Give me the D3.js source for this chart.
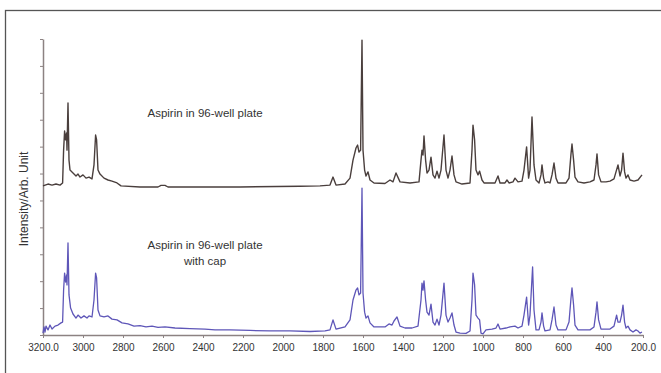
<!DOCTYPE html>
<html>
<head>
<meta charset="utf-8">
<script src="https://cdn.jsdelivr.net/npm/d3@7"></script>
<style>
  body { margin: 0; background: #fff; }
  #chart svg { display: block; }
</style>
</head>
<body>
<div id="chart"></div>
<script>
// wavenumber ticks (cm-1), x axis runs high -> low
const xTicks = [3200, 3000, 2800, 2600, 2400, 2200, 2000, 1800, 1600, 1400, 1200, 1000, 800, 600, 400, 200];
const yTicks = [0, 10, 20, 30, 40, 50, 60, 70, 80, 90, 100, 110];

const labels = ['Aspirin in 96-well plate', 'Aspirin in 96-well plate', 'with cap'];

// top trace: aspirin in plate (offset up, arbitrary units) [wavenumber, intensity]
const plateSpectrum = [
  [3200, 55.4], [3175, 56.1], [3155, 55.7], [3135, 56.1], [3115, 55.7], [3102, 56.5],
  [3097, 68.7], [3092, 75.8], [3087, 72.5], [3082, 75.1], [3080, 68.7], [3075, 86.2],
  [3070, 65.0], [3065, 61.3], [3050, 60.2], [3035, 59.1], [3025, 59.8], [3015, 58.7],
  [3000, 59.5], [2985, 58.3], [2970, 58.7], [2955, 58.0], [2945, 63.2], [2937, 74.3],
  [2932, 72.5], [2925, 61.3], [2915, 59.8], [2895, 58.3], [2875, 57.6], [2855, 57.2],
  [2830, 56.5], [2810, 55.4], [2715, 55.0], [2625, 55.0], [2610, 55.6], [2590, 55.6],
  [2575, 55.0], [2215, 55.0], [1915, 55.3], [1815, 55.4], [1765, 55.7], [1750, 58.7],
  [1735, 55.7], [1690, 56.1], [1665, 58.3], [1650, 65.0], [1635, 69.5], [1627, 70.6],
  [1620, 68.0], [1612, 68.7], [1605, 109.6], [1600, 68.7], [1592, 61.3], [1585, 59.1],
  [1575, 60.6], [1565, 57.6], [1545, 56.5], [1490, 56.3], [1465, 57.6], [1450, 56.9],
  [1435, 60.2], [1415, 56.9], [1365, 56.5], [1320, 56.9], [1310, 65.0], [1305, 68.7],
  [1300, 66.9], [1295, 74.0], [1287, 65.0], [1280, 60.2], [1270, 61.3], [1260, 66.1],
  [1250, 59.5], [1240, 58.3], [1230, 60.9], [1220, 58.3], [1210, 61.3], [1195, 74.3],
  [1185, 61.3], [1175, 58.3], [1165, 61.3], [1155, 66.5], [1145, 59.5], [1135, 56.9],
  [1105, 56.1], [1065, 56.5], [1055, 68.7], [1050, 78.0], [1042, 72.5], [1035, 61.3],
  [1025, 59.5], [1017, 60.9], [1005, 57.6], [995, 56.5], [940, 56.5], [925, 59.1],
  [915, 56.5], [890, 56.5], [880, 57.6], [870, 56.5], [850, 56.9], [840, 58.3],
  [825, 56.9], [805, 57.2], [795, 61.3], [782, 69.9], [772, 58.3], [765, 61.3],
  [755, 81.0], [745, 63.2], [735, 57.6], [720, 56.5], [710, 59.5], [705, 63.2],
  [697, 58.3], [690, 56.5], [675, 56.9], [665, 56.5], [655, 59.5], [645, 63.9],
  [635, 58.3], [625, 56.5], [585, 56.5], [570, 58.3], [560, 67.3], [555, 71.0],
  [547, 65.0], [540, 58.7], [525, 56.9], [495, 56.5], [465, 56.9], [445, 57.6],
  [435, 63.2], [430, 67.3], [422, 59.5], [410, 56.9], [385, 56.9], [365, 57.2],
  [345, 58.0], [335, 60.6], [325, 63.2], [315, 59.1], [307, 61.3], [300, 67.6],
  [292, 60.6], [285, 58.3], [275, 59.5], [265, 57.6], [245, 57.2], [225, 57.6],
  [205, 59.5]
];

// bottom trace: aspirin in plate with cap
const capSpectrum = [
  [3200, 0.7], [3195, 3.0], [3190, 1.1], [3185, 3.3], [3175, 1.9], [3165, 3.7],
  [3155, 2.2], [3140, 3.3], [3125, 3.7], [3110, 4.5], [3102, 4.8], [3097, 16.7],
  [3092, 23.0], [3087, 19.7], [3082, 22.3], [3080, 18.6], [3075, 34.2], [3070, 14.9],
  [3062, 10.0], [3050, 7.8], [3035, 6.3], [3025, 7.4], [3010, 6.3], [2995, 7.1],
  [2980, 6.3], [2970, 7.1], [2955, 6.7], [2945, 13.0], [2937, 23.0], [2932, 21.2],
  [2925, 9.3], [2915, 7.1], [2895, 6.7], [2875, 7.1], [2855, 5.9], [2830, 5.6],
  [2805, 4.5], [2775, 4.1], [2745, 3.3], [2715, 3.5], [2685, 3.0], [2655, 3.3],
  [2625, 2.8], [2590, 3.0], [2540, 2.6], [2465, 2.4], [2390, 2.2], [2340, 1.9],
  [2265, 1.9], [2165, 1.7], [2065, 1.5], [1965, 1.5], [1865, 1.3], [1790, 1.5],
  [1765, 1.9], [1750, 5.6], [1735, 2.2], [1690, 3.0], [1665, 5.6], [1650, 13.0],
  [1635, 16.7], [1627, 17.5], [1620, 14.9], [1612, 15.6], [1605, 54.6], [1600, 15.6],
  [1592, 8.5], [1585, 6.3], [1575, 7.1], [1565, 4.5], [1545, 3.0], [1490, 3.0],
  [1470, 4.1], [1455, 3.7], [1445, 5.2], [1430, 6.7], [1415, 3.3], [1390, 2.6],
  [1355, 2.6], [1325, 3.3], [1310, 13.0], [1305, 19.3], [1300, 16.7], [1295, 20.1],
  [1287, 13.0], [1280, 8.5], [1270, 7.4], [1260, 11.5], [1250, 4.8], [1240, 3.7],
  [1230, 5.9], [1220, 3.7], [1210, 7.4], [1195, 19.3], [1185, 7.4], [1175, 4.8],
  [1165, 6.3], [1155, 8.2], [1145, 3.7], [1135, 1.1], [1115, 0.7], [1085, 0.6],
  [1065, 1.5], [1055, 13.0], [1050, 23.0], [1042, 18.6], [1035, 7.4], [1025, 6.3],
  [1017, 5.6], [1010, 0.7], [1000, 0.4], [985, 1.9], [955, 2.2], [935, 2.6],
  [925, 4.1], [915, 2.2], [885, 2.6], [865, 3.0], [840, 3.3], [825, 2.6],
  [805, 3.3], [795, 7.4], [782, 14.1], [772, 3.7], [765, 7.4], [752, 25.3],
  [745, 9.3], [735, 1.9], [720, 1.9], [710, 4.8], [705, 8.2], [697, 3.3],
  [690, 1.5], [665, 1.9], [655, 5.6], [645, 10.4], [635, 3.7], [625, 1.9],
  [585, 1.9], [570, 4.8], [560, 13.7], [555, 17.5], [547, 11.1], [540, 3.7],
  [525, 1.9], [465, 1.9], [445, 3.0], [435, 8.5], [430, 12.3], [422, 5.6],
  [410, 2.2], [365, 2.2], [345, 3.3], [332, 7.4], [325, 4.8], [315, 4.8],
  [307, 7.4], [300, 11.1], [292, 4.8], [285, 2.6], [275, 3.3], [265, 1.9],
  [250, 1.1], [235, 1.9], [225, 1.5], [215, 0.7], [205, 1.1]
];

const WIDTH = 661;
const HEIGHT = 373;
const X0 = 43, X1 = 643;
const Y0 = 335, Y1 = 39;

const svg = d3.select('#chart')
  .append('svg')
  .attr('width', WIDTH)
  .attr('height', HEIGHT)
  .style('font-family', '"Liberation Sans", Arial, sans-serif');

// outer frame
svg.append('rect')
  .attr('x', 5.5).attr('y', 10.5)
  .attr('width', WIDTH).attr('height', HEIGHT)
  .attr('fill', 'none')
  .attr('stroke', '#555')
  .attr('stroke-width', 1.3);

const x = d3.scaleLinear().domain([3200, 200]).range([X0, X1]);
const y = d3.scaleLinear().domain([0, 110]).range([Y0, Y1]);

const axisColor = '#8c8282';

const xAxis = svg.append('g')
  .attr('transform', `translate(0,${Y0})`)
  .call(d3.axisBottom(x)
    .tickValues(xTicks)
    .tickSizeInner(3)
    .tickSizeOuter(0)
    .tickPadding(6)
    .tickFormat(d => (d === 3200 || d === 200) ? d.toFixed(1) : d));
xAxis.select('.domain').attr('stroke', axisColor).attr('stroke-width', 1.5);
xAxis.selectAll('.tick line').attr('stroke', axisColor);
xAxis.selectAll('.tick text').attr('fill', '#333').style('font-size', '10px');

const yAxis = svg.append('g')
  .attr('transform', `translate(${X0},0)`)
  .call(d3.axisLeft(y).tickValues(yTicks).tickSizeInner(3).tickSizeOuter(0).tickFormat(''));
yAxis.select('.domain').attr('stroke', axisColor).attr('stroke-width', 1.5);
yAxis.selectAll('.tick line').attr('stroke', axisColor);

svg.append('text')
  .attr('transform', `translate(28,${(Y0 + Y1) / 2 + 12}) rotate(-90)`)
  .attr('text-anchor', 'middle')
  .attr('fill', '#333')
  .style('font-size', '12px')
  .text('Intensity/Arb. Unit');

const line = d3.line()
  .x(d => x(d[0]))
  .y(d => y(d[1]));

svg.append('path')
  .datum(capSpectrum)
  .attr('d', line)
  .attr('fill', 'none')
  .attr('stroke', '#5e56b8')
  .attr('stroke-width', 1.3)
  .attr('stroke-linejoin', 'round');

svg.append('path')
  .datum(plateSpectrum)
  .attr('d', line)
  .attr('fill', 'none')
  .attr('stroke', '#4a3f3d')
  .attr('stroke-width', 1.4)
  .attr('stroke-linejoin', 'round');

// annotations
const notes = [
  { text: labels[0], wn: 2390, v: 81.0 },
  { text: labels[1], wn: 2390, v: 32.0 },
  { text: labels[2], wn: 2390, v: 26.0 }
];
svg.selectAll('text.note')
  .data(notes)
  .enter()
  .append('text')
  .attr('class', 'note')
  .attr('x', d => x(d.wn))
  .attr('y', d => y(d.v))
  .attr('text-anchor', 'middle')
  .attr('fill', '#333')
  .style('font-size', '11.5px')
  .text(d => d.text);
</script>
</body>
</html>
